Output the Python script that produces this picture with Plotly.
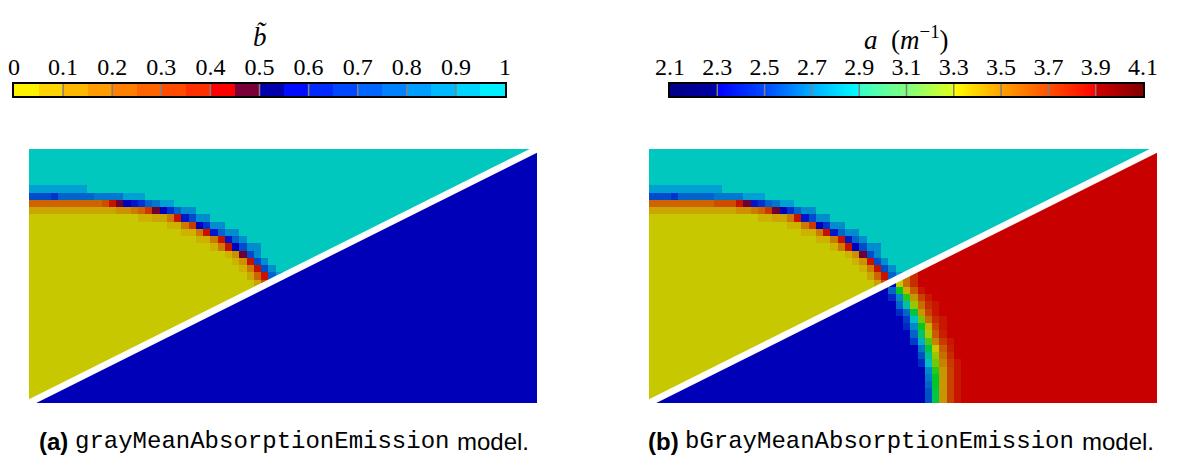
import numpy as np
import plotly.graph_objects as go

W, H = 1183, 472
NX, NY = 70, 35          # mesh cells (columns, rows)
SUB = 4                  # sub-sampling used only to draw the slanted domain edge

# ---------------- colour bar data ----------------
b_tick_vals = [0.0, 0.1, 0.2, 0.3, 0.4, 0.5, 0.6, 0.7, 0.8, 0.9, 1.0]
b_tick_text = ["0", "0.1", "0.2", "0.3", "0.4", "0.5", "0.6", "0.7", "0.8", "0.9", "1"]
b_levels = [0.025, 0.075, 0.125, 0.175, 0.225, 0.275, 0.325, 0.375, 0.425, 0.475,
            0.525, 0.575, 0.625, 0.675, 0.725, 0.775, 0.825, 0.875, 0.925, 0.975]
b_bar_colors = ["rgb(255,242,0)", "rgb(255,212,0)", "rgb(255,184,0)", "rgb(255,157,0)",
                "rgb(255,128,0)", "rgb(255,100,0)", "rgb(255,74,0)", "rgb(255,48,0)",
                "rgb(255,0,0)", "rgb(122,0,58)", "rgb(0,0,172)", "rgb(0,12,255)",
                "rgb(0,42,255)", "rgb(0,72,255)", "rgb(0,102,255)", "rgb(0,130,255)",
                "rgb(0,158,255)", "rgb(0,186,255)", "rgb(0,212,255)", "rgb(0,240,255)"]
b_field_colors = ["rgb(200,200,0)", "rgb(205,178,0)", "rgb(205,165,0)", "rgb(205,145,0)",
                  "rgb(205,122,0)", "rgb(205,100,0)", "rgb(205,76,0)", "rgb(205,55,0)",
                  "rgb(200,18,0)", "rgb(110,0,52)", "rgb(0,0,185)", "rgb(0,22,200)",
                  "rgb(0,50,205)", "rgb(0,76,205)", "rgb(0,100,205)", "rgb(0,120,205)",
                  "rgb(0,140,205)", "rgb(0,160,210)", "rgb(0,180,205)", "rgb(0,200,190)"]

a_tick_vals = [2.1, 2.3, 2.5, 2.7, 2.9, 3.1, 3.3, 3.5, 3.7, 3.9, 4.1]
a_tick_text = ["2.1", "2.3", "2.5", "2.7", "2.9", "3.1", "3.3", "3.5", "3.7", "3.9", "4.1"]
jet_bar = [[0.0, "rgb(0,0,135)"], [0.0999, "rgb(0,0,165)"], [0.1, "rgb(0,0,255)"],
           [0.2, "rgb(0,75,255)"], [0.3, "rgb(0,175,255)"], [0.3999, "rgb(0,255,255)"],
           [0.4, "rgb(55,255,200)"], [0.5, "rgb(130,255,125)"], [0.5999, "rgb(225,255,25)"],
           [0.6, "rgb(255,255,0)"], [0.7, "rgb(255,162,0)"], [0.8, "rgb(255,80,0)"],
           [0.8999, "rgb(255,0,0)"], [0.9, "rgb(205,0,0)"], [1.0, "rgb(128,0,0)"]]
jet_field = [[0.0, "rgb(0,0,110)"], [0.1, "rgb(0,0,185)"], [0.175, "rgb(0,40,200)"],
             [0.25, "rgb(0,100,200)"], [0.375, "rgb(0,190,200)"], [0.5, "rgb(0,200,40)"],
             [0.6, "rgb(150,200,0)"], [0.65, "rgb(200,200,0)"], [0.7, "rgb(200,150,0)"],
             [0.775, "rgb(200,90,0)"], [0.875, "rgb(200,0,0)"], [1.0, "rgb(110,0,0)"]]

# ---------------- field data ----------------
B_CYAN, B_YELLOW, B_LOWER = 0.98, 0.02, 0.52
A_BLUE, A_RED = 2.3, 3.85

# upper domain, run-length per mesh row from the left: (cells, b); the rest is B_CYAN
top_runs_a = [
    [], [], [], [], [],
    [(8, 0.87)],
    [(3, 0.67), (1, 0.62), (5, 0.72), (4, 0.78), (3, 0.87)],
    [(10, 0.27), (1, 0.33), (1, 0.42), (1, 0.47), (1, 0.52), (1, 0.57), (1, 0.63),
     (1, 0.72), (1, 0.78), (2, 0.87)],
    [(12, 0.12), (2, 0.17), (1, 0.22), (1, 0.27), (1, 0.37), (1, 0.47), (1, 0.52),
     (1, 0.62), (1, 0.72), (2, 0.82)],
    [(15, 0.02), (2, 0.07), (2, 0.12), (1, 0.22), (1, 0.42), (1, 0.57), (1, 0.68), (2, 0.83)],
    [(19, 0.02), (2, 0.07), (1, 0.20), (1, 0.37), (1, 0.52), (1, 0.63), (2, 0.83)],
    [(21, 0.02), (2, 0.07), (1, 0.22), (1, 0.42), (1, 0.56), (1, 0.70), (2, 0.83)],
    [(23, 0.02), (2, 0.07), (1, 0.22), (1, 0.42), (1, 0.55), (1, 0.72), (1, 0.83)],
    [(25, 0.02), (1, 0.07), (1, 0.20), (1, 0.42), (1, 0.53), (1, 0.68), (2, 0.83)],
    [(27, 0.02), (1, 0.07), (1, 0.17), (1, 0.47), (1, 0.65), (1, 0.82)],
    [(28, 0.02), (1, 0.07), (1, 0.15), (1, 0.42), (1, 0.65), (1, 0.83)],
    [(29, 0.02), (1, 0.07), (1, 0.22), (1, 0.42), (1, 0.68), (1, 0.83)],
    [(30, 0.02), (1, 0.10), (1, 0.25), (1, 0.42), (1, 0.72), (1, 0.85)],
    [(31, 0.02), (1, 0.10), (1, 0.30)],
] + [[(70, 0.02)]] * 16

top_runs_b = [list(r) for r in top_runs_a]
top_runs_b[5] = [(10, 0.87)]
top_runs_b[7] = [(9, 0.27), (1, 0.30), (2, 0.33), (1, 0.42), (1, 0.49), (1, 0.57),
                 (1, 0.63), (1, 0.72), (1, 0.78), (2, 0.87)]

# lower domain of (b): first band column per row and band values of a (m^-1);
# cells left of the band are A_BLUE, cells right of it are A_RED
low_band_start_b = [0] * 17 + [34, 34, 33, 33, 34, 34, 35, 35, 36, 36, 37, 37, 37, 38, 38, 38, 38, 38]
low_band_b = [[]] * 17 + [
    [3.60, 3.60, 3.75],
    [3.40, 3.60, 3.75],
    [2.60, 3.10, 3.45, 3.65, 3.80],
    [2.45, 2.70, 3.15, 3.50, 3.70, 3.80],
    [2.60, 2.90, 3.30, 3.60, 3.75, 3.80],
    [2.45, 2.60, 3.05, 3.50, 3.70, 3.80],
    [2.50, 2.85, 3.25, 3.60, 3.75, 3.80],
    [2.45, 2.70, 3.10, 3.45, 3.70, 3.80],
    [2.60, 3.00, 3.35, 3.65, 3.78],
    [2.50, 2.80, 3.20, 3.55, 3.72, 3.80],
    [2.65, 3.05, 3.40, 3.65, 3.78],
    [2.55, 2.95, 3.30, 3.60, 3.75],
    [2.45, 2.85, 3.25, 3.55, 3.72, 3.80],
    [2.70, 3.15, 3.50, 3.70, 3.80],
    [2.65, 3.10, 3.50, 3.70, 3.80],
    [2.60, 3.10, 3.50, 3.70, 3.80],
    [2.55, 3.05, 3.50, 3.70, 3.80],
    [2.55, 3.05, 3.50, 3.70, 3.80],
]


def runs_to_grid(runs, fill):
    g = np.full((NY, NX), fill, dtype=float)
    for j, row in enumerate(runs):
        c = 0
        for n, v in row:
            g[j, c:c + n] = v
            c += n
    return g


def band_to_grid(starts, bands, left, right):
    g = np.full((NY, NX), right, dtype=float)
    for j in range(NY):
        s = starts[j]
        g[j, :s] = left
        g[j, s:s + len(bands[j])] = bands[j]
    return g


def stepped(colors):
    n = len(colors)
    cs = []
    for i, c in enumerate(colors):
        cs += [[i / n, c], [(i + 1) / n, c]]
    return cs


xs = (np.arange(NX * SUB) + 0.5) / SUB
ys = (np.arange(NY * SUB) + 0.5) / SUB
XX, YY = np.meshgrid(xs, ys)
upper = YY < NY * (1.0 - XX / NX)   # above the diagonal that splits the block


def fine(g):
    return np.kron(g, np.ones((SUB, SUB)))


top_a = fine(runs_to_grid(top_runs_a, B_CYAN))
top_b = fine(runs_to_grid(top_runs_b, B_CYAN))
low_a = fine(np.full((NY, NX), B_LOWER))
low_b = fine(band_to_grid(low_band_start_b, low_band_b, A_BLUE, A_RED))

b_field_cs = stepped(b_field_colors)
b_bar_cs = stepped(b_bar_colors)

fig = go.Figure()
fig.add_trace(go.Heatmap(x=xs, y=ys, z=np.where(upper, top_a, low_a), colorscale=b_field_cs,
                         zmin=0, zmax=1, showscale=False, xaxis="x", yaxis="y",
                         hoverinfo="skip"))
fig.add_trace(go.Heatmap(x=xs, y=ys, z=np.where(upper, top_b, np.nan), colorscale=b_field_cs,
                         zmin=0, zmax=1, showscale=False, xaxis="x2", yaxis="y2",
                         hoverinfo="skip"))
fig.add_trace(go.Heatmap(x=xs, y=ys, z=np.where(upper, np.nan, low_b), colorscale=jet_field,
                         zmin=2.1, zmax=4.1, showscale=False, xaxis="x2", yaxis="y2",
                         hoverinfo="skip"))
# colour bars
fig.add_trace(go.Heatmap(x=b_levels, y=[0], z=[b_levels], colorscale=b_bar_cs, zmin=0, zmax=1,
                         showscale=False, xaxis="x3", yaxis="y3", hoverinfo="skip"))
fig.add_trace(go.Heatmap(x=a_tick_vals, y=[0, 1], z=[a_tick_vals, a_tick_vals],
                         colorscale=jet_bar, zmin=2.1, zmax=4.1, zsmooth="best",
                         showscale=False, xaxis="x4", yaxis="y4", hoverinfo="skip"))

hidden = dict(visible=False, showgrid=False, zeroline=False)
serif = "Liberation Serif, DejaVu Serif, serif"
bar_x = dict(side="top", ticks="", showgrid=False, zeroline=False, showline=True, mirror=True,
             linecolor="black", linewidth=1.5, tickfont=dict(family=serif, size=24, color="black"),
             ticklabelstandoff=-2)
bar_y = dict(showticklabels=False, ticks="", showgrid=False, zeroline=False, showline=True,
             mirror=True, linecolor="black", linewidth=1.5)

fig.update_layout(
    width=W, height=H, margin=dict(l=0, r=0, t=0, b=0, autoexpand=False),
    paper_bgcolor="white", plot_bgcolor="white", showlegend=False,
    xaxis=dict(domain=[29 / W, 537 / W], range=[0, NX], anchor="y", **hidden),
    yaxis=dict(domain=[1 - 403 / H, 1 - 149 / H], range=[NY, 0], anchor="x", **hidden),
    xaxis2=dict(domain=[649 / W, 1157 / W], range=[0, NX], anchor="y2", **hidden),
    yaxis2=dict(domain=[1 - 403 / H, 1 - 149 / H], range=[NY, 0], anchor="x2", **hidden),
    xaxis3=dict(domain=[14 / W, 505 / W], range=[0, 1], anchor="y3",
                tickvals=b_tick_vals, ticktext=b_tick_text, **bar_x),
    yaxis3=dict(domain=[1 - 96 / H, 1 - 84 / H], range=[-0.5, 0.5], anchor="x3", **bar_y),
    xaxis4=dict(domain=[670 / W, 1143 / W], range=[2.1, 4.1], anchor="y4",
                tickvals=a_tick_vals, ticktext=a_tick_text, **bar_x),
    yaxis4=dict(domain=[1 - 96 / H, 1 - 84 / H], range=[0, 1], anchor="x4", **bar_y),
)

shapes = []
for xr, yr in (("x", "y"), ("x2", "y2")):
    shapes.append(dict(type="line", xref=xr, yref=yr, x0=-1, y0=NY + 0.5, x1=NX + 1, y1=-0.5,
                       line=dict(color="white", width=6.5), layer="above"))
for v in b_tick_vals[1:-1]:
    shapes.append(dict(type="line", xref="x3", yref="y3 domain", x0=v, x1=v, y0=0, y1=1,
                       line=dict(color="rgb(128,128,128)", width=1.5), layer="above"))
for v in a_tick_vals[1:-1]:
    shapes.append(dict(type="line", xref="x4", yref="y4 domain", x0=v, x1=v, y0=0, y1=1,
                       line=dict(color="rgb(128,128,128)", width=1.5), layer="above"))
fig.update_layout(shapes=shapes)

# titles of the colour bars
fig.add_annotation(xref="x3 domain", yref="paper", x=0.5, y=1 - 20 / H, showarrow=False,
                   text="<i>b\u0303</i>", font=dict(family=serif, size=27, color="black"))
fig.add_annotation(xref="x4 domain", yref="paper", x=0.5, y=1 - 19 / H, showarrow=False,
                   text="<i>a</i>\u00a0\u00a0(<i>m</i><sup>\u22121</sup>)",
                   font=dict(family=serif, size=27, color="black"))

# captions: bold label, monospace model name, plain word
sans = "Liberation Sans, Arial, sans-serif"
mono = "Liberation Mono, Courier New, monospace"
MONO_SIZE, SANS_SIZE = 24, 24
cap_y = 1 - 457 / H
for label, name, centre in (("(a)", "grayMeanAbsorptionEmission", 262),
                            ("(b)", "bGrayMeanAbsorptionEmission", 880)):
    half = len(name) * 0.6 * MONO_SIZE / 2
    fig.add_annotation(xref="paper", yref="paper", x=centre / W, y=cap_y, showarrow=False,
                       xanchor="center", text=name, font=dict(family=mono, size=MONO_SIZE, color="black"))
    fig.add_annotation(xref="paper", yref="paper", x=(centre - half - 5) / W, y=cap_y,
                       showarrow=False, xanchor="right", text="<b>" + label + "</b>",
                       font=dict(family=sans, size=SANS_SIZE, color="black"))
    fig.add_annotation(xref="paper", yref="paper", x=(centre + half + 6) / W, y=cap_y,
                       showarrow=False, xanchor="left", text="model.",
                       font=dict(family=sans, size=SANS_SIZE, color="black"))

fig.write_html("out.html")
